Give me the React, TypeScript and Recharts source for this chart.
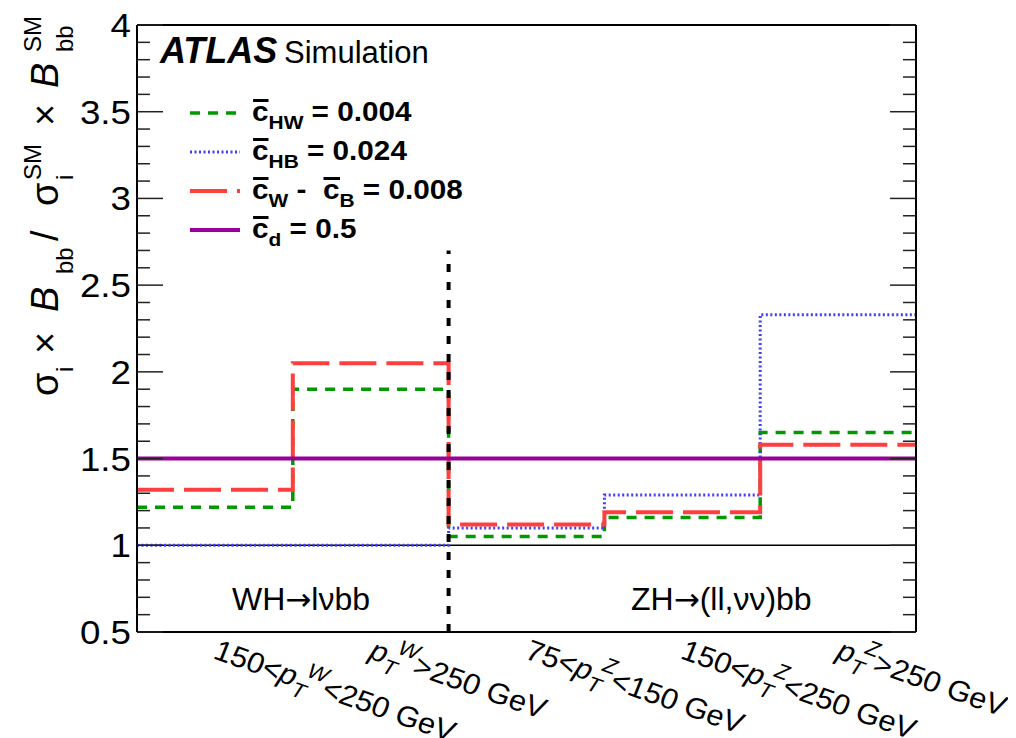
import React from 'react';
import { LineChart, Line, XAxis, YAxis, ReferenceLine, Legend } from 'recharts';

// bin edges along the x axis, one bin per pT category
const binEdges = [0, 1, 2, 3, 4, 5];
const binCentres = [0.5, 1.5, 2.5, 3.5, 4.5];
const binLabels = [
  '150<p_T^W<250 GeV',
  'p_T^W>250 GeV',
  '75<p_T^Z<150 GeV',
  '150<p_T^Z<250 GeV',
  'p_T^Z>250 GeV',
];

// sigma x B / SM per bin
const cHW = [1.22, 1.9, 1.05, 1.16, 1.65];
const cHB = [1.0, 1.0, 1.1, 1.29, 2.33];
const cWminusB = [1.32, 2.05, 1.12, 1.19, 1.58];
const cd = [1.5, 1.5, 1.5, 1.5, 1.5];

const coeffValues = ['0.004', '0.024', '0.008', '0.5'];

const yMajorTicks = [0.5, 1, 1.5, 2, 2.5, 3, 3.5, 4];
const yTicks: number[] = [];
for (let i = 5; i <= 40; i++) yTicks.push(i / 10);

// last edge repeats the last bin so the step runs to the frame
const data = binEdges.map((x, i) => {
  const b = Math.min(i, 4);
  return { x, cHW: cHW[b], cHB: cHB[b], cWB: cWminusB[b], cd: cd[b] };
});

const FONT = '"Liberation Sans", Arial, Helvetica, sans-serif';
const ARROW_FONT = '"DejaVu Sans", sans-serif';

const series = [
  { key: 'cHW', color: '#009a00', width: 3.5, dash: '10 8', subs: ['HW'], value: coeffValues[0] },
  { key: 'cHB', color: '#3f3fff', width: 3, dash: '2 2.5', subs: ['HB'], value: coeffValues[1] },
  { key: 'cWB', color: '#ff3f3f', width: 4, dash: '37 10', subs: ['W', 'B'], value: coeffValues[2] },
  { key: 'cd', color: '#990099', width: 4, dash: undefined, subs: ['d'], value: coeffValues[3] },
];

const isMajor = (v: number) => yMajorTicks.some((m) => Math.abs(m - v) < 1e-6);

const LeftTick = (props: any) => {
  const { x, y, payload } = props;
  const major = isMajor(payload.value);
  return (
    <g>
      <line x1={x} x2={x + (major ? 26 : 13)} y1={y} y2={y} stroke="#222" strokeWidth={1.5} />
      {major && (
        <g transform={`translate(${x - 6},${y + 12}) scale(1.08,1)`}>
          <text x={0} y={0} textAnchor="end" fontSize={34} fontFamily={FONT} fill="#000">
            {String(payload.value)}
          </text>
        </g>
      )}
    </g>
  );
};

const RightTick = (props: any) => {
  const { x, y, payload } = props;
  const major = isMajor(payload.value);
  return <line x1={x} x2={x - (major ? 26 : 13)} y1={y} y2={y} stroke="#222" strokeWidth={1.5} />;
};

const XTick = (props: any) => {
  const { x, y, payload } = props;
  const idx = binCentres.findIndex((c) => Math.abs(c - payload.value) < 1e-6);
  const m = binLabels[idx].match(/^(.*)p_T\^(\w)(.*)$/);
  if (!m) return null;
  const [, pre, boson, post] = m;
  return (
    <g transform={`translate(${x - 3},${y + 26}) scale(1.06,1) rotate(20.5)`}>
      <text x={0} y={0} fontSize={29} fontFamily={FONT} fill="#000">
        {pre && <tspan>{pre}</tspan>}
        <tspan fontStyle="italic">p</tspan>
        <tspan fontSize={21} fontStyle="italic" dy={9}>T</tspan>
        <tspan fontSize={21} fontStyle="italic" dx={-5} dy={-23}>{boson}</tspan>
        <tspan dy={14}>{post}</tspan>
      </text>
    </g>
  );
};

const CBar = ({ sub }: { sub: string }) => (
  <span>
    <span style={{ position: 'relative', display: 'inline-block' }}>
      c
      <span style={{ position: 'absolute', left: 1, right: 0, top: 2, height: 3, background: '#000' }} />
    </span>
    <span style={{ fontSize: 19, position: 'relative', top: 8 }}>{sub}</span>
  </span>
);

const LegendBox = () => (
  <div style={{ fontFamily: FONT }}>
    {series.map((s) => (
      <div key={s.key} style={{ display: 'flex', alignItems: 'center', height: 39 }}>
        <svg width={50} height={8} style={{ display: 'block' }}>
          <line x1={0} x2={50} y1={4} y2={4} stroke={s.color} strokeWidth={s.width} strokeDasharray={s.dash} />
        </svg>
        <span
          style={{
            marginLeft: 12,
            fontSize: 27,
            fontWeight: 'bold',
            display: 'inline-block',
            transform: 'scaleX(1.1)',
            transformOrigin: 'left center',
            whiteSpace: 'pre',
            color: '#000',
          }}
        >
          {s.subs.map((sb, i) => (
            <React.Fragment key={sb}>
              {i > 0 && ' -  '}
              <CBar sub={sb} />
            </React.Fragment>
          ))}
          {' = ' + s.value}
        </span>
      </div>
    ))}
  </div>
);

export default function App() {
  return (
    <div style={{ position: 'relative', width: 1000, height: 730, background: '#fff' }}>
      <LineChart width={1000} height={730} data={data} margin={{ top: 17, right: 0, bottom: 0, left: 0 }}>
        <XAxis
          type="number"
          dataKey="x"
          domain={[0, 5]}
          ticks={binCentres}
          interval={0}
          tickLine={false}
          tickSize={0}
          tickMargin={0}
          height={106}
          axisLine={{ stroke: '#000', strokeWidth: 2 }}
          tick={<XTick />}
          allowDataOverflow
        />
        <YAxis
          yAxisId="left"
          type="number"
          domain={[0.5, 4]}
          ticks={yTicks}
          interval={0}
          width={129}
          tickLine={false}
          tickSize={0}
          tickMargin={0}
          axisLine={{ stroke: '#000', strokeWidth: 2 }}
          tick={<LeftTick />}
          allowDataOverflow
        />
        <YAxis
          yAxisId="right"
          orientation="right"
          type="number"
          domain={[0.5, 4]}
          ticks={yTicks}
          interval={0}
          width={92}
          tickLine={false}
          tickSize={0}
          tickMargin={0}
          axisLine={{ stroke: '#000', strokeWidth: 2 }}
          tick={<RightTick />}
          allowDataOverflow
        />
        <ReferenceLine yAxisId="left" y={4} stroke="#000" strokeWidth={2} />
        <ReferenceLine yAxisId="left" y={1} stroke="#000" strokeWidth={1.5} />
        {series.map((s) => (
          <Line
            key={s.key}
            yAxisId="left"
            type="stepAfter"
            dataKey={s.key}
            stroke={s.color}
            strokeWidth={s.width}
            strokeDasharray={s.dash}
            dot={false}
            activeDot={false}
            isAnimationActive={false}
          />
        ))}
        <ReferenceLine
          yAxisId="left"
          segment={[{ x: 2, y: 0.5 }, { x: 2, y: 2.7 }]}
          stroke="#000"
          strokeWidth={4}
          strokeDasharray="8 10"
        />
        <Legend
          layout="vertical"
          align="center"
          verticalAlign="middle"
          wrapperStyle={{ left: 182, top: 85, width: 'auto' }}
          content={<LegendBox />}
        />
      </LineChart>
      <svg
        width={1000}
        height={730}
        style={{ position: 'absolute', left: 0, top: 0, pointerEvents: 'none' }}
        fontFamily={FONT}
      >
        <text x={152} y={55} fontSize={36} fontWeight="bold" fontStyle="italic" fill="#000">ATLAS</text>
        <text x={276} y={55} fontSize={31} fill="#000">Simulation</text>
        <text x={224} y={602} fontSize={32} fill="#000">
          WH<tspan fontFamily={ARROW_FONT} fontSize={31}>→</tspan>lνbb
        </text>
        <text x={623} y={602} fontSize={32} fill="#000">
          ZH<tspan fontFamily={ARROW_FONT} fontSize={31}>→</tspan>(ll,νν)bb
        </text>
        <text transform="rotate(-90)" fill="#000">
          <tspan x={-388} y={50} fontSize={38}>σ</tspan>
          <tspan x={-364} y={65} fontSize={24}>i</tspan>
          <tspan x={-346} y={50} fontSize={38}>×</tspan>
          <tspan x={-304} y={50} fontSize={38} fontStyle="italic">B</tspan>
          <tspan x={-266} y={65} fontSize={24}>bb</tspan>
          <tspan x={-233} y={50} fontSize={38}>/</tspan>
          <tspan x={-198} y={50} fontSize={38}>σ</tspan>
          <tspan x={-172} y={65} fontSize={24}>i</tspan>
          <tspan x={-172} y={33} fontSize={24}>SM</tspan>
          <tspan x={-118} y={50} fontSize={38}>×</tspan>
          <tspan x={-80} y={50} fontSize={38} fontStyle="italic">B</tspan>
          <tspan x={-44} y={65} fontSize={24}>bb</tspan>
          <tspan x={-44} y={33} fontSize={24}>SM</tspan>
        </text>
      </svg>
    </div>
  );
}
